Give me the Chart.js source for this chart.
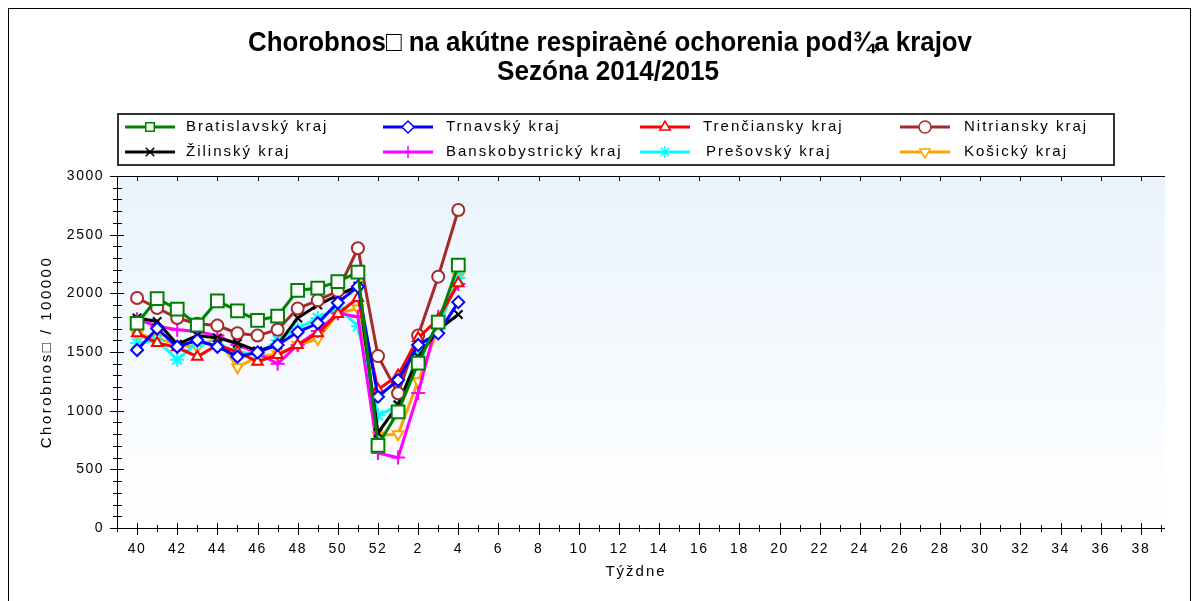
<!DOCTYPE html>
<html><head><meta charset="utf-8">
<style>html,body{margin:0;padding:0;background:#fff;}#wrap{width:1198px;height:601px;}</style>
<script src="https://cdn.jsdelivr.net/npm/chart.js@4.4.1/dist/chart.umd.min.js"></script>
</head><body><div id="wrap"><canvas id="c" width="1198" height="601"></canvas></div>
<script>
// ---- data ----
const weeks = [40,41,42,43,44,45,46,47,48,49,50,51,52,1,2,3,4];
const axisWeeks = [39,40,41,42,43,44,45,46,47,48,49,50,51,52,1,2,3,4,5,6,7,8,9,10,11,12,13,14,15,16,17,18,19,20,21,22,23,24,25,26,27,28,29,30,31,32,33,34,35,36,37,38,39];
const bratislavsky    = [1745,1955,1865,1730,1935,1850,1770,1805,2025,2045,2100,2180,705,990,1405,1755,2240];
const trnavsky        = [1517,1700,1545,1600,1545,1460,1497,1560,1670,1745,1920,2057,1119,1261,1560,1659,1925];
const trenciansky     = [1660,1577,1540,1460,1560,1500,1417,1474,1560,1659,1824,1960,1180,1300,1620,1780,2085];
const nitriansky      = [1960,1875,1790,1740,1725,1660,1640,1690,1870,1940,2020,2384,1465,1148,1640,2142,2710];
const zilinsky        = [1790,1760,1565,1640,1620,1575,1510,1560,1790,1900,1985,2060,810,1050,1460,1690,1820];
const banskobystricky = [1780,1720,1690,1675,1640,1560,1490,1400,1560,1680,1830,1800,640,600,1150,1800,2080];
const presovsky       = [1575,1600,1435,1580,1560,1500,1480,1600,1700,1790,1880,1720,960,1040,1480,1720,2130];
const kosicky         = [1650,1620,1560,1540,1620,1370,1460,1480,1560,1610,1830,1870,790,800,1250,1700,2140];
const seriesNames = ['Bratislavský kraj','Trnavský kraj','Trenčiansky kraj','Nitriansky kraj','Žilinský kraj','Banskobystrický kraj','Prešovský kraj','Košický kraj'];
const seriesValues = [bratislavsky,trnavsky,trenciansky,nitriansky,zilinsky,banskobystricky,presovsky,kosicky];
const seriesColors = ['#008000','#0000ff','#ff0000','#a52a2a','#000000','#ff00ff','#00ffff','#ffa500'];
const seriesMarkers = ['rect','rectRot','triangle','circle','crossRot','cross','star','triangle'];
const markerRot = [0,0,0,0,0,0,0,180];
const markerRadius = [9,6,6,6,6,7,7,6];
const titleLines = ['Chorobnos\u25A1 na akútne respiraèné ochorenia pod¾a krajov','Sezóna 2014/2015'];
const titleWidths = [724,222];
const yTitle = 'Chorobnos\u25A1 / 100000';
const xTitle = 'Týždne';

const datasets = seriesNames.map((n,k)=>({
  label:n,
  data: seriesValues[k].map((v,i)=>({x:i,y:v})),
  borderColor: seriesColors[k], backgroundColor:'#ffffff',
  borderWidth:3, tension:0,
  pointStyle: seriesMarkers[k], pointRotation: markerRot[k], pointRadius: markerRadius[k],
  pointBorderColor: seriesColors[k], pointBackgroundColor:'#ffffff', pointBorderWidth:2,
  pointHoverRadius: markerRadius[k]
}));

const FONT = '"Liberation Sans", Arial, sans-serif';

const decor = {
  id:'decor',
  beforeDraw(chart){
    const ctx = chart.ctx, a = chart.chartArea;
    ctx.save();
    ctx.fillStyle='#fff'; ctx.fillRect(0,0,chart.width,chart.height);
    ctx.strokeStyle='#000'; ctx.lineWidth=1;
    ctx.strokeRect(8.5,8.5,1182,640);
    const g = ctx.createLinearGradient(0,a.top,0,a.bottom);
    g.addColorStop(0,'#eaf3fd'); g.addColorStop(1,'#ffffff');
    ctx.fillStyle=g; ctx.fillRect(a.left,a.top,a.right-a.left,a.bottom-a.top);
    ctx.restore();
    ctx.letterSpacing = '1.5px';
  },
  beforeDatasetsDraw(chart){
    const ctx = chart.ctx, a = chart.chartArea, xs = chart.scales.x, ys = chart.scales.y;
    ctx.save();
    ctx.strokeStyle='#000'; ctx.lineWidth=1;
    ctx.beginPath();
    ctx.moveTo(a.left+0.5,a.top); ctx.lineTo(a.left+0.5,a.bottom+0.5);
    ctx.lineTo(a.right,a.bottom+0.5);
    ctx.moveTo(a.left,a.top+0.5); ctx.lineTo(a.right,a.top+0.5);
    for(let i=-1;i<axisWeeks.length-1;i++){
      const px = Math.round(xs.getPixelForValue(i))+0.5;
      const major = axisWeeks[i+1]%2===0;
      if(major){ ctx.moveTo(px,a.bottom-5); ctx.lineTo(px,a.bottom+7); ctx.moveTo(px,a.top); ctx.lineTo(px,a.top+5); }
      else { ctx.moveTo(px,a.bottom-3); ctx.lineTo(px,a.bottom+4); }
    }
    for(let v=0; v<=3000; v+=100){
      const py = Math.round(ys.getPixelForValue(v))+0.5;
      if(v%500===0){ ctx.moveTo(a.left-7,py); ctx.lineTo(a.left+7,py); }
      else { ctx.moveTo(a.left-4,py); ctx.lineTo(a.left+5,py); }
    }
    ctx.stroke();
    ctx.restore();
  },
  afterDraw(chart){
    const ctx = chart.ctx;
    ctx.save();
    ctx.fillStyle='#000';
    ctx.textAlign='center'; ctx.textBaseline='middle';
    ctx.letterSpacing='0px';
    ctx.font='bold 28px "Liberation Sans", Arial, sans-serif';
    const tc=[[610,43],[608,72]];
    titleLines.forEach((t,i)=>{
      const w = ctx.measureText(t).width;
      ctx.save(); ctx.translate(tc[i][0],tc[i][1]); ctx.scale(titleWidths[i]/w,1); ctx.fillText(t,0,0); ctx.restore();
    });
    ctx.font='15px '+FONT;
    ctx.letterSpacing='2px';
    ctx.fillText(xTitle,636,572);
    ctx.letterSpacing='2.5px';
    ctx.save(); ctx.translate(47,352); ctx.rotate(-Math.PI/2); ctx.fillText(yTitle,0,0); ctx.restore();
    // legend
    ctx.strokeStyle='#333'; ctx.lineWidth=2;
    ctx.strokeRect(118,114,996,51);
    const colsLine=[125,383,640,900], colsText=[186,446,703,964], rows=[127,152];
    ctx.textAlign='left';
    ctx.font='15px '+FONT;
    ctx.letterSpacing='2px';
    seriesNames.forEach((n,k)=>{
      const r = Math.floor(k/4), c = k%4, y=rows[r];
      ctx.strokeStyle=seriesColors[k]; ctx.lineWidth=3;
      ctx.beginPath(); ctx.moveTo(colsLine[c],y); ctx.lineTo(colsLine[c]+50,y); ctx.stroke();
      ctx.fillStyle='#fff'; ctx.lineWidth=1.5;
      Chart.helpers.drawPoint(ctx,{pointStyle:seriesMarkers[k],rotation:markerRot[k],radius:Math.min(markerRadius[k],6),borderWidth:1.5},colsLine[c]+25,y);
      ctx.fillStyle='#000';
      ctx.fillText(n,colsText[c]+(k===6?3:0),y);
    });
    ctx.restore();
  }
};

new Chart(document.getElementById('c'),{
  type:'line',
  data:{datasets},
  options:{
    responsive:false, animation:false, devicePixelRatio:1,
    layout:{padding:{left:0,top:176,right:33,bottom:0}},
    plugins:{legend:{display:false},title:{display:false},tooltip:{enabled:false}},
    scales:{
      x:{type:'linear',min:-1,max:51.2,afterFit(s){s.height=73;},
        grid:{display:false,drawTicks:false},border:{display:false},
        ticks:{stepSize:1,autoSkip:false,maxRotation:0,padding:13,color:'#000',font:{family:FONT,size:14},
          callback:(v)=>{ if(!Number.isInteger(v)||v<0||v>50) return ''; const w=axisWeeks[v+1]; return w%2===0?String(w):''; }}},
      y:{min:0,max:3000,afterFit(s){s.width=117;},
        grid:{display:false,drawTicks:false},border:{display:false},
        ticks:{stepSize:500,padding:13,color:'#000',font:{family:FONT,size:14},callback:(v)=>String(v)}}
    }
  },
  plugins:[decor]
});
</script></body></html>
